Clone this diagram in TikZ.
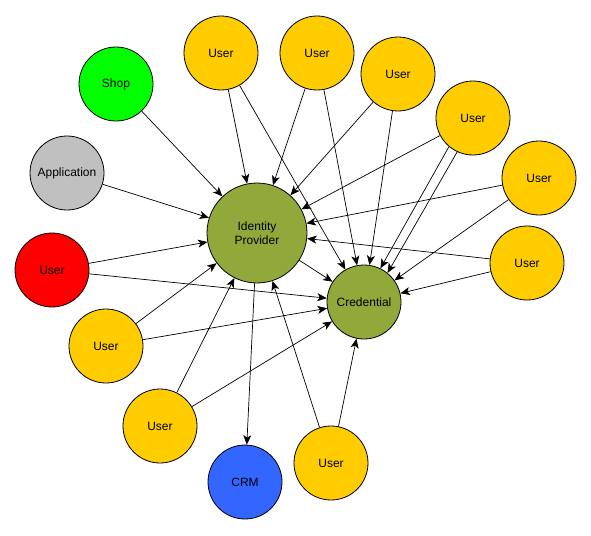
\documentclass[tikz,border=0pt]{standalone}
\usepackage{fontspec}
\setmainfont{Liberation Sans}
\usetikzlibrary{arrows.meta}
\definecolor{uyellow}{HTML}{FFCC00}
\definecolor{ugreen}{HTML}{00FF00}
\definecolor{ugray}{HTML}{C0C0C0}
\definecolor{ured}{HTML}{FF0000}
\definecolor{ublue}{HTML}{3366FF}
\definecolor{uolive}{HTML}{91A83B}
\tikzset{
  ent/.style={circle, draw=black, line width=0.8pt, minimum size=74pt, inner sep=0pt, align=center, font=\fontsize{12}{14}\selectfont},
  usr/.style={ent, fill=uyellow},
  arr/.style={-{Stealth[length=9.5pt,width=8pt,inset=2.5pt]}, line width=0.7pt}
}
\begin{document}
\begin{tikzpicture}[x=1pt,y=-1pt]
\useasboundingbox (0,0) rectangle (591,535);
\node[ent, fill=uolive, minimum size=100pt] (idp) at (257,233) {Identity\\Provider};
\node[ent, fill=uolive] (cred) at (364,302) {Credential};
\node[ent, fill=ugreen] (shop) at (116,84) {Shop};
\node[ent, fill=ugray] (app) at (67,173) {Application};
\node[ent, fill=ured] (ured) at (52,270) {User};
\node[usr] (u1) at (221,53) {User};
\node[usr] (u2) at (317,53) {User};
\node[usr] (u3) at (398,74) {User};
\node[usr] (u4) at (473,118) {User};
\node[usr] (u5) at (539,178) {User};
\node[usr] (u6) at (527,263) {User};
\node[usr] (u7) at (106,346) {User};
\node[usr] (u8) at (160,426) {User};
\node[usr] (u9) at (331,463) {User};
\node[ent, fill=ublue] (crm) at (245,482) {CRM};

\draw[arr] (shop) -- (idp);
\draw[arr] (app) -- (idp);
\draw[arr] (ured) -- (idp);
\draw[arr] (ured) -- (cred);
\draw[arr] (u1) -- (idp);
\draw[arr] (u1) -- (cred);
\draw[arr] (u2) -- (idp);
\draw[arr] (u2) -- (cred);
\draw[arr] (u3) -- (idp);
\draw[arr] (u3) -- (cred);
\draw[arr] (u4) -- (idp);
\draw[arr] (u4.230) -- (cred.64);
\draw[arr] (u4.245) -- (cred.51);
\draw[arr] (u5) -- (idp);
\draw[arr] (u5) -- (cred);
\draw[arr] (u6) -- (idp);
\draw[arr] (u6) -- (cred);
\draw[arr] (u7) -- (idp);
\draw[arr] (u7) -- (cred);
\draw[arr] (u8) -- (idp);
\draw[arr] (u8) -- (cred);
\draw[arr] (u9) -- (idp);
\draw[arr] (u9) -- (cred);
\draw[arr] (idp) -- (cred);
\draw[arr] (idp) -- (crm);
\end{tikzpicture}
\end{document}
